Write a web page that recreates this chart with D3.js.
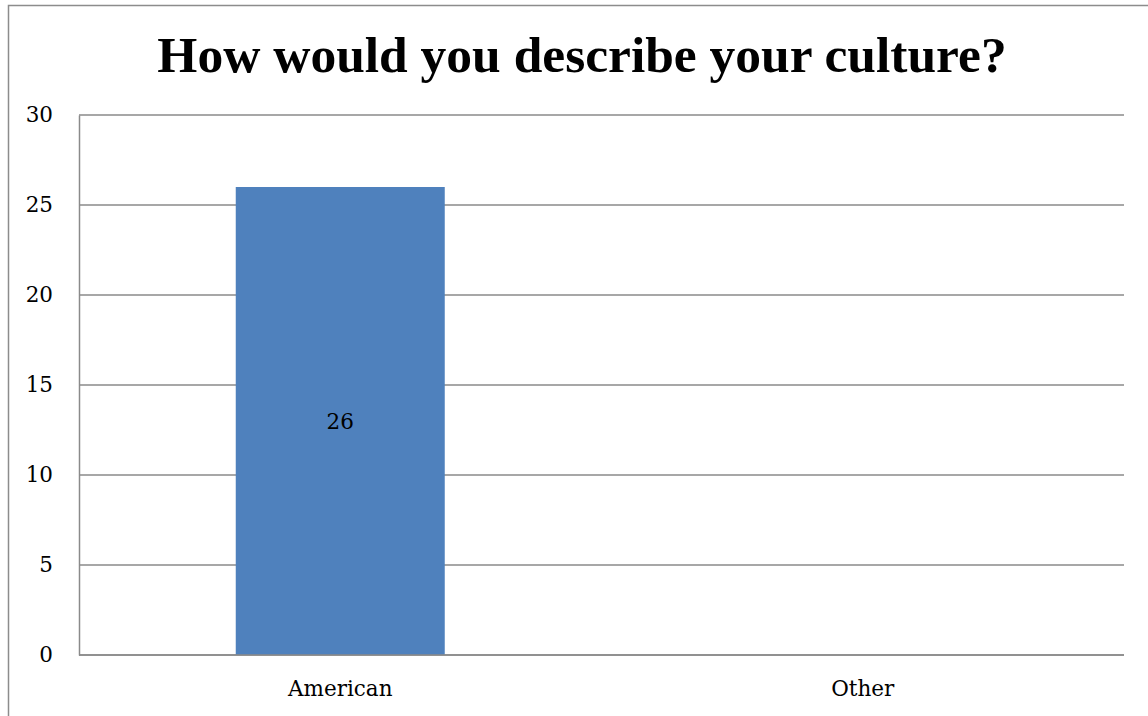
<!DOCTYPE html>
<html>
<head>
<meta charset="utf-8">
<script src="https://cdn.jsdelivr.net/npm/d3@7/dist/d3.min.js"></script>
<style>
  html, body { margin: 0; padding: 0; background: #fff; }
  svg { display: block; }
</style>
</head>
<body>
<svg id="chart" width="1148" height="716"></svg>
<script>
// Survey responses: "How would you describe your culture?"
const categories = ["American", "Other"];
const counts = [26, 0];
const yTicks = [0, 5, 10, 15, 20, 25, 30];
const titleText = "How would you describe your culture?";

const svg = d3.select("#chart");
const W = 1148, H = 716;
const plot = { left: 79, right: 1124, top: 115, bottom: 655 };
const labelFont = "'DejaVu Serif', serif";
const labelSize = 21.5;

// Outer chart frame (extends past the right and bottom edges)
svg.append("rect")
  .attr("x", 8.5).attr("y", 5.5)
  .attr("width", W + 20).attr("height", H + 20)
  .attr("fill", "#fff")
  .attr("stroke", "#8c8c8c")
  .attr("stroke-width", 1.5);

const x = d3.scaleBand()
  .domain(categories)
  .range([plot.left, plot.right])
  .paddingInner(0.6)
  .paddingOuter(0.3);

const y = d3.scaleLinear()
  .domain([0, 30])
  .range([plot.bottom, plot.top]);

// Horizontal gridlines
svg.append("g")
  .selectAll("line")
  .data(yTicks)
  .join("line")
  .attr("x1", plot.left).attr("x2", plot.right)
  .attr("y1", d => y(d)).attr("y2", d => y(d))
  .attr("stroke", "#8a8a8a")
  .attr("stroke-width", 1.5);

// Y axis labels
const yAxis = d3.axisLeft(y).tickValues(yTicks).tickSize(0).tickPadding(26);
const gy = svg.append("g")
  .attr("transform", `translate(${plot.left},0)`)
  .call(yAxis);
gy.select(".domain")
  .attr("stroke", "#8a8a8a")
  .attr("stroke-width", 1.5);
gy.selectAll("text")
  .attr("font-family", labelFont)
  .attr("font-size", labelSize)
  .attr("fill", "#000");

// Bars
svg.append("g")
  .selectAll("rect")
  .data(categories.map((c, i) => ({ c, v: counts[i] })))
  .join("rect")
  .attr("x", d => x(d.c))
  .attr("width", x.bandwidth())
  .attr("y", d => y(d.v))
  .attr("height", d => y(0) - y(d.v))
  .attr("fill", "#4f81bd");

// Value labels centred inside non-empty bars
svg.append("g")
  .selectAll("text")
  .data(categories.map((c, i) => ({ c, v: counts[i] })).filter(d => d.v > 0))
  .join("text")
  .attr("x", d => x(d.c) + x.bandwidth() / 2)
  .attr("y", d => (y(d.v) + y(0)) / 2)
  .attr("dy", "0.35em")
  .attr("text-anchor", "middle")
  .attr("font-family", labelFont)
  .attr("font-size", labelSize)
  .attr("fill", "#000")
  .text(d => d.v);

// Redraw the baseline over the bars
svg.append("line")
  .attr("x1", plot.left).attr("x2", plot.right)
  .attr("y1", y(0)).attr("y2", y(0))
  .attr("stroke", "#8a8a8a")
  .attr("stroke-width", 1.5);

// Category labels
const xAxis = d3.axisBottom(x).tickSize(0).tickPadding(26);
const gx = svg.append("g")
  .attr("transform", `translate(0,${plot.bottom})`)
  .call(xAxis);
gx.select(".domain").remove();
gx.selectAll("text")
  .attr("font-family", labelFont)
  .attr("font-size", labelSize)
  .attr("fill", "#000");

// Title
svg.append("text")
  .attr("x", 582)
  .attr("y", 72)
  .attr("text-anchor", "middle")
  .attr("font-family", "'Liberation Serif', serif")
  .attr("font-weight", "bold")
  .attr("font-size", 51.5)
  .attr("fill", "#000")
  .text(titleText);
</script>
</body>
</html>
